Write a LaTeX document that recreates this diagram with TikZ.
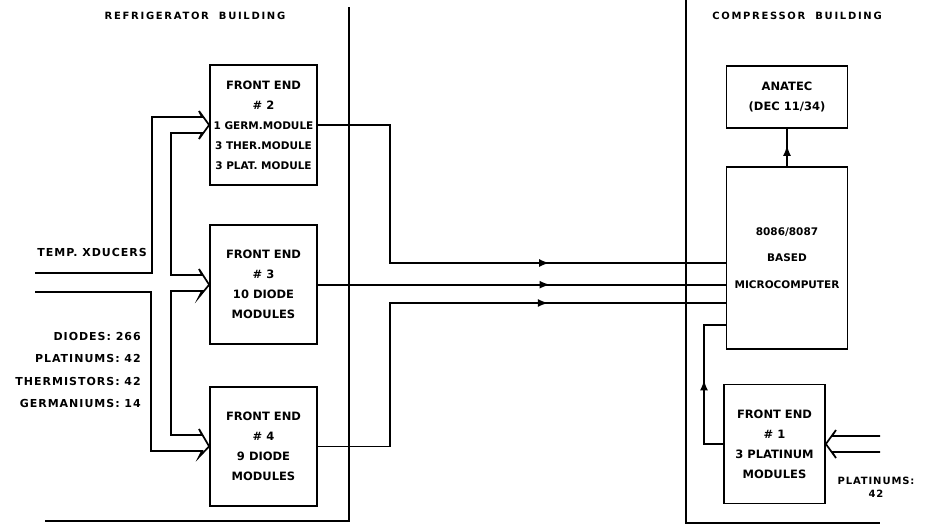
\documentclass[tikz,border=0pt]{standalone}
\usepackage{fontspec}
\setmainfont{DejaVu Sans}
\newfontfamily\spacedfont[LetterSpace=17]{DejaVu Sans}
\newfontfamily\labelfont[LetterSpace=9]{DejaVu Sans}
\newcommand{\modline}{\fontsize{10.5}{20}\selectfont}
\usetikzlibrary{positioning,calc,arrows,decorations.markings}
\tikzset{
  unit/.style   ={rectangle, draw=black, line width=1.7pt, fill=white, align=center,
                  font=\bfseries\fontsize{11.5}{20}\selectfont,
                  minimum width=107pt, minimum height=119pt, inner sep=1pt},
  hdr/.style    ={font=\spacedfont\bfseries\fontsize{10}{12}\selectfont, inner sep=0pt},
  lbl/.style    ={font=\labelfont\bfseries\fontsize{11}{22.5}\selectfont, inner sep=0pt},
  wall/.style   ={line width=1.7pt},
  sig/.style    ={line width=1.7pt},
  bus/.style    ={line width=1.7pt, line join=miter},
  midarr/.style ={postaction={decorate}, decoration={markings,
                  mark=at position #1 with {\arrow[scale=1.3]{latex}}}}
}
\begin{document}
\begin{tikzpicture}[x=1pt, y=-1pt]
  \useasboundingbox (0,0) rectangle (931,525);
  \node[unit,minimum height=120pt] (fe2) at (263.5,125) {FRONT END\\\# 2\\{\modline 1 GERM.MODULE}\\{\modline 3 THER.MODULE}\\{\modline 3 PLAT. MODULE}};
  \node[unit,below=38.5pt of fe2] (fe3) {FRONT END\\\# 3\\10 DIODE\\MODULES};
  \node[unit,below=41pt of fe3] (fe4) {FRONT END\\\# 4\\9 DIODE\\MODULES};
  \node[unit,minimum width=121pt,minimum height=62pt] (anatec) at (787,97) {ANATEC\\(DEC 11/34)};
  \node[unit,below=37pt of anatec,minimum width=121pt,minimum height=182pt,
        font=\bfseries\fontsize{10.5}{26.5}\selectfont] (micro) {8086/8087\\BASED\\MICROCOMPUTER};
  \node[unit,minimum width=101pt] (fe1) at (774.5,444) {FRONT END\\\# 1\\3 PLATINUM\\MODULES};

  \node[hdr] (refhdr) at (195,16) {REFRIGERATOR\hspace{1em}BUILDING};
  \node[hdr] (comphdr) at (797,16) {COMPRESSOR\hspace{1em}BUILDING};
  \node[lbl,anchor=east] (xducers) at (147,252) {TEMP. XDUCERS};
  \node[lbl,align=right,anchor=north east] (counts) at (141,332) {DIODES: 266\\PLATINUMS: 42\\THERMISTORS: 42\\GERMANIUMS: 14};
  \node[lbl,align=center,font=\labelfont\bfseries\fontsize{10}{13}\selectfont] (platin) at (876,487) {PLATINUMS:\\42};

  \draw[wall] (349,7) -- (349,521) -- (45,521);
  \draw[wall] (686,0) -- (686,523) -- (880,523);

  \coordinate (xin1) at (35,273);
  \coordinate (xin2) at (35,292);
  \draw[bus] (xin1) -- (152,273) -- (152,117) -- (202,117) -- (199,111) -- (fe2.west)
    -- (199,139) -- (202,133) -- (171,133) -- (171,275) -- (202,275) -- (199,269) -- (fe3.west)
    -- (199,297) -- (202,291) -- (171,291) -- (171,435) -- (202,435) -- (199,429) -- (fe4.west)
    -- (199,457) -- (202,451) -- (151,451) -- (151,292) -- (xin2);

  \coordinate (pin1) at (880,436);
  \coordinate (pin2) at (880,452);
  \draw[bus] (pin1) -- (832,436) -- (836,430) -- (fe1.east) -- (836,458) -- (832,452) -- (pin2);

  \coordinate (j2) at (390,263);
  \coordinate (j4) at (390,303);
  \draw[sig,midarr=0.677] (fe2.east) -| (j2) -- (micro.west |- j2);
  \draw[sig,midarr=0.569] (fe3.east) -- (micro.west |- fe3.east);
  \draw[sig,midarr=0.678] (fe4.east) -| (j4) -- (micro.west |- j4);
  \draw[sig,midarr=0.55] (micro.north) -- (anatec.south);
  \coordinate (k1) at (704,325);
  \draw[sig,midarr=0.52] (fe1.west) -| (k1) -- (micro.west |- k1);
\end{tikzpicture}
\end{document}
